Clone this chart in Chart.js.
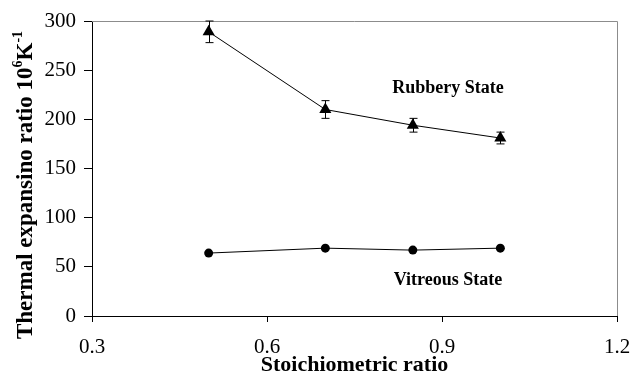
<!DOCTYPE html>
<html>
<head>
<meta charset="utf-8">
<script src="https://cdn.jsdelivr.net/npm/chart.js@4/dist/chart.umd.min.js"></script>
<style>
  html, body { margin: 0; padding: 0; background: #fff; }
  #wrap { width: 631px; height: 383px; }
</style>
</head>
<body>
<div id="wrap"><canvas id="myChart" width="631" height="383"></canvas></div>
<script>
var ratios = [0.5, 0.7, 0.85, 1.0];
var rubbery = [289, 210, 194, 181];
var rubberyErr = [11, 9, 7, 6];
var vitreous = [64, 69, 67, 69];
var xTicks = [0.3, 0.6, 0.9, 1.2];
var yTicks = [0, 50, 100, 150, 200, 250, 300];

var serif = "'Liberation Serif', 'Times New Roman', serif";

function pts(xs, ys) {
    return xs.map(function (x, i) { return { x: x, y: ys[i] }; });
}

var extras = {
    id: 'extras',
    afterDatasetsDraw: function (chart) {
        var c = chart.ctx, xs = chart.scales.x, ys = chart.scales.y, a = chart.chartArea;
        c.save();
        // grey frame on top and right
        c.strokeStyle = '#8c8c8c';
        c.lineWidth = 1;
        c.beginPath();
        c.moveTo(a.left, a.top + 0.5);
        c.lineTo(a.right + 0.5, a.top + 0.5);
        c.lineTo(a.right + 0.5, a.bottom);
        c.stroke();
        // error bars
        c.strokeStyle = '#000';
        ratios.forEach(function (x, i) {
            var px = Math.round(xs.getPixelForValue(x)) + 0.5;
            var top = ys.getPixelForValue(rubbery[i] + rubberyErr[i]);
            var bot = ys.getPixelForValue(rubbery[i] - rubberyErr[i]);
            c.beginPath();
            c.moveTo(px, top); c.lineTo(px, bot);
            c.moveTo(px - 4, top); c.lineTo(px + 4, top);
            c.moveTo(px - 4, bot); c.lineTo(px + 4, bot);
            c.stroke();
        });
        // series labels
        c.fillStyle = '#000';
        c.font = 'bold 18px ' + serif;
        c.textAlign = 'center';
        c.textBaseline = 'middle';
        c.fillText('Rubbery State', 448, ys.getPixelForValue(232));
        c.fillText('Vitreous State', 448, ys.getPixelForValue(36));
        // y axis title with superscripts
        c.translate(26, 185);
        c.rotate(-Math.PI / 2);
        var big = 'bold 23px ' + serif, small = 'bold 14px ' + serif;
        var parts = [
            ['Thermal expansino ratio 10', big, 0],
            ['6', small, -8],
            ['K', big, 0],
            ['-1', small, -8]
        ];
        var total = 0;
        parts.forEach(function (p) { c.font = p[1]; total += c.measureText(p[0]).width; });
        var x = -total / 2;
        c.textAlign = 'left';
        c.textBaseline = 'middle';
        parts.forEach(function (p) {
            c.font = p[1];
            c.fillText(p[0], x, p[2]);
            x += c.measureText(p[0]).width;
        });
        c.restore();
    }
};

new Chart(document.getElementById('myChart'), {
    type: 'scatter',
    data: {
        datasets: [{
            label: 'Rubbery State',
            data: pts(ratios, rubbery),
            showLine: true,
            borderColor: '#000',
            backgroundColor: '#000',
            borderWidth: 1,
            pointStyle: 'triangle',
            pointRadius: 7,
            pointBorderWidth: 0
        }, {
            label: 'Vitreous State',
            data: pts(ratios, vitreous),
            showLine: true,
            borderColor: '#000',
            backgroundColor: '#000',
            borderWidth: 1,
            pointStyle: 'circle',
            pointRadius: 4.5,
            pointBorderWidth: 0
        }]
    },
    options: {
        responsive: false,
        animation: false,
        layout: { padding: { top: 21, right: 14, left: 0, bottom: 0 } },
        plugins: { legend: { display: false }, tooltip: { enabled: false } },
        scales: {
            x: {
                type: 'linear',
                min: 0.3, max: 1.2,
                afterBuildTicks: function (s) { s.ticks = xTicks.map(function (v) { return { value: v }; }); },
                afterFit: function (s) { s.height = 67; s.paddingRight = 0; s.paddingLeft = 0; },
                grid: { drawOnChartArea: false, drawTicks: true, tickLength: 6, color: '#000' },
                border: { color: '#000', width: 1 },
                ticks: {
                    color: '#000', font: { family: serif, size: 21 }, padding: 13,
                    maxRotation: 0,
                    callback: function (v) { return v.toFixed(1); }
                },
                title: {
                    display: true, text: 'Stoichiometric ratio', color: '#000',
                    font: { family: serif, size: 22, weight: 'bold' }, padding: { top: 0, bottom: 4 }
                }
            },
            y: {
                min: 0, max: 300,
                afterBuildTicks: function (s) { s.ticks = yTicks.map(function (v) { return { value: v }; }); },
                afterFit: function (s) { s.width = 92; },
                grid: { drawOnChartArea: false, drawTicks: true, tickLength: 8, color: '#000' },
                border: { color: '#000', width: 1 },
                ticks: { color: '#000', font: { family: serif, size: 21 }, padding: 8 }
            }
        }
    },
    plugins: [extras]
});
</script>
</body>
</html>
